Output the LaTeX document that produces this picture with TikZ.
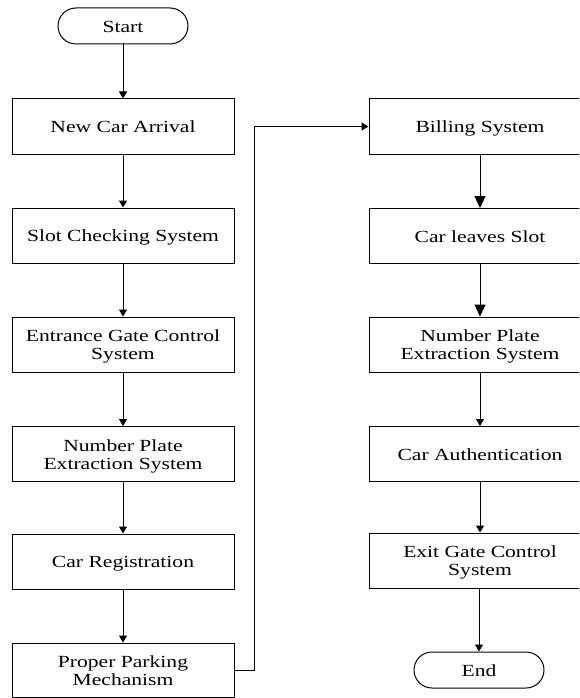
\documentclass[tikz,border=0pt]{standalone}
\usepackage{fontspec}
\usepackage{graphicx}
\setmainfont{Liberation Serif}
\usetikzlibrary{arrows.meta}
\newcommand{\sx}[1]{\raisebox{-2.5pt}[\height][\depth]{\scalebox{1.27}[1]{\begin{tabular}{@{}c@{}}#1\end{tabular}}}}
\tikzset{
  box/.style={draw=black, line width=1pt, minimum width=222pt, minimum height=55pt, inner sep=0pt, font=\fontsize{17}{18}\selectfont},
  term/.style={draw=black, line width=1pt, rounded corners=18pt, minimum width=130pt, minimum height=36pt, inner sep=0pt, font=\fontsize{17}{18}\selectfont},
  arr/.style={line width=1pt, -{Triangle[length=7pt,width=8pt]}},
  bigarr/.style={line width=1pt, -{Triangle[length=12pt,width=11pt]}}
}
\begin{document}
\begin{tikzpicture}[x=1pt,y=-1pt]
\useasboundingbox (0,0) rectangle (579,698);
\clip (0,0) rectangle (579,698);
% left column
\node[term] (start) at (123,26) {\sx{Start}};
\node[box] (a1) at (123,126.5) {\sx{New Car Arrival}};
\node[box] (a2) at (123,235.5) {\sx{Slot Checking System}};
\node[box] (a3) at (123,344.5) {\sx{Entrance Gate Control\\System}};
\node[box] (a4) at (123,454) {\sx{Number Plate\\Extraction System}};
\node[box] (a5) at (123,561.5) {\sx{Car Registration}};
\node[box, minimum height=54pt] (a6) at (123,670) {\sx{Proper Parking\\Mechanism}};
% right column
\node[box] (b1) at (480,126.5) {\sx{Billing System}};
\node[box] (b2) at (480,236) {\sx{Car leaves Slot}};
\node[box] (b3) at (480,344.5) {\sx{Number Plate\\Extraction System}};
\node[box] (b4) at (480,454) {\sx{Car Authentication}};
\node[box] (b5) at (480,560.5) {\sx{Exit Gate Control\\System}};
\node[term] (end) at (479,670) {\sx{End}};
% connectors
\draw[arr] (start) -- (a1);
\draw[arr] (a1) -- (a2);
\draw[arr] (a2) -- (a3);
\draw[arr] (a3) -- (a4);
\draw[arr] (a4) -- (a5);
\draw[arr] (a5) -- (a6);
\draw[arr] (a6.east) -- ++(20,0) |- (b1.west);
\draw[bigarr] (b1) -- (b2);
\draw[bigarr] (b2) -- (b3);
\draw[arr] (b3) -- (b4);
\draw[arr] (b4) -- (b5);
\draw[arr] (b5.south -| end.north) -- (end);
\end{tikzpicture}
\end{document}
